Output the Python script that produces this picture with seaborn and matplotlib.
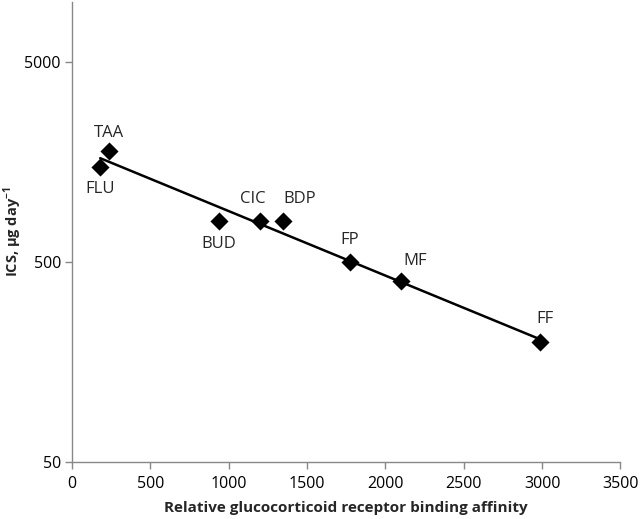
import matplotlib
matplotlib.use("Agg")
import matplotlib.pyplot as plt
from matplotlib.ticker import FixedLocator, FixedFormatter, NullLocator
import seaborn as sns
import numpy as np
import pandas as pd

# data
drugs = ["FLU", "TAA", "BUD", "CIC", "BDP", "FP", "MF", "FF"]
binding_affinity = [180, 233, 935, 1200, 1345, 1775, 2100, 2989]
ics_dose = [1500, 1800, 800, 800, 800, 500, 400, 200]
y_ticks = [50, 500, 5000]
x_ticks = [0, 500, 1000, 1500, 2000, 2500, 3000, 3500]

# label placement (offset in points from each marker)
label_offsets = {
    "FLU": (0, -16), "TAA": (0, 13), "BUD": (0, -16), "CIC": (-5, 16),
    "BDP": (12, 16), "FP": (0, 16), "MF": (10, 15), "FF": (3, 16),
}

df = pd.DataFrame({"drug": drugs, "rba": binding_affinity, "ics": ics_dose})

sns.set_style("white")
plt.rcParams["font.family"] = ["Open Sans", "DejaVu Sans"]

fig = plt.figure(figsize=(6.4, 5.19), dpi=100)
ax = fig.add_axes([0.1125, 0.11, 0.857, 0.886])

# exponential trend line (least squares on log10 of dose)
slope, intercept = np.polyfit(df["rba"], np.log10(df["ics"]), 1)
x_fit = np.array([df["rba"].min(), df["rba"].max()])
ax.plot(x_fit, 10 ** (intercept + slope * x_fit), color="black", lw=1.8, zorder=2)

sns.scatterplot(data=df, x="rba", y="ics", marker="D", s=85, color="black",
                edgecolor="black", linewidth=0, ax=ax, zorder=3)

for _, row in df.iterrows():
    dx, dy = label_offsets[row["drug"]]
    ax.annotate(row["drug"], (row["rba"], row["ics"]), xytext=(dx, dy),
                textcoords="offset points", ha="center", va="center", fontsize=12)

ax.set_yscale("log")
ax.set_ylim(50, 10000)
ax.set_xlim(0, 3500)
ax.yaxis.set_major_locator(FixedLocator(y_ticks))
ax.yaxis.set_major_formatter(FixedFormatter([str(v) for v in y_ticks]))
ax.yaxis.set_minor_locator(NullLocator())
ax.set_xticks(x_ticks)

for side in ["top", "right"]:
    ax.spines[side].set_visible(False)
for side in ["left", "bottom"]:
    ax.spines[side].set_color("#888888")
    ax.spines[side].set_linewidth(1.0)
ax.tick_params(axis="both", direction="out", length=5, width=1, color="#888888",
               labelsize=11.5, labelcolor="black", left=True, bottom=True, pad=3)
ax.tick_params(axis="x", pad=5)

ax.set_xlabel("Relative glucocorticoid receptor binding affinity", fontsize=11,
              fontweight="bold")
ax.xaxis.set_label_coords(0.5, -0.085)
ax.xaxis.label.set_va("top")
ax.set_ylabel(r"ICS, $\mathregular{\mu}$g day$^{\mathregular{-1}}$", fontsize=10.5,
              fontweight="bold")
ax.yaxis.set_label_coords(-0.087, 0.5)

fig.savefig("out.png", dpi=100)
